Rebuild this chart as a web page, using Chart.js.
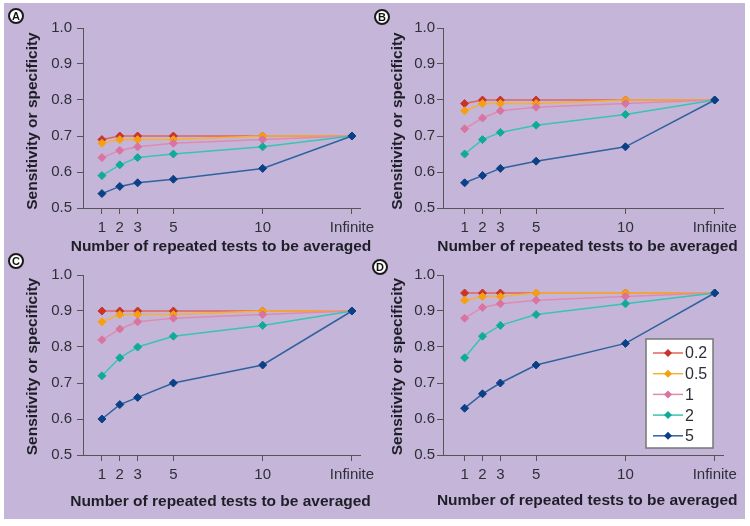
<!DOCTYPE html>
<html>
<head>
<meta charset="utf-8">
<script src="https://cdn.jsdelivr.net/npm/chart.js@4.4.0/dist/chart.umd.min.js"></script>
<style>
  body { margin: 0; width: 750px; height: 526px; background: #fff; position: relative; overflow: hidden; }
  .bg { position: absolute; left: 4px; top: 3px; width: 741px; height: 516px; background: #c5b6d9; }
  .panel { position: absolute; width: 375px; height: 263px; }
  .panel canvas { display: block; }
  .tag {
    position: absolute; width: 12px; height: 12px; border: 2px solid #1a1a1a; border-radius: 50%;
    background: #fff; color: #111; text-align: center; line-height: 12px;
    font: bold 11px "Liberation Sans", Arial, sans-serif;
  }
</style>
</head>
<body>
<div class="bg"></div>
<div class="panel" style="left:0;top:0"><canvas id="chartA" width="375" height="263"></canvas></div>
<div class="panel" style="left:375px;top:0"><canvas id="chartB" width="375" height="263"></canvas></div>
<div class="panel" style="left:0;top:263px"><canvas id="chartC" width="375" height="263"></canvas></div>
<div class="panel" style="left:375px;top:263px"><canvas id="chartD" width="375" height="263"></canvas></div>
<div class="tag" style="left:8px;top:8px">A</div>
<div class="tag" style="left:374px;top:9px">B</div>
<div class="tag" style="left:8px;top:253px">C</div>
<div class="tag" style="left:372px;top:259px">D</div>
<script>
// x: number of repeated tests ("Infinite" sits at 15 on the axis)
const xPositions = [1, 2, 3, 5, 10, 15];
const xLabels = ["1", "2", "3", "5", "10", "Infinite"];
const seriesNames = ["0.2", "0.5", "1", "2", "5"];

// one row per series, in seriesNames order
const panelA = [
  [0.69, 0.70, 0.70, 0.70, 0.70, 0.70],
  [0.68, 0.69, 0.69, 0.69, 0.70, 0.70],
  [0.64, 0.66, 0.67, 0.68, 0.69, 0.70],
  [0.59, 0.62, 0.64, 0.65, 0.67, 0.70],
  [0.54, 0.56, 0.57, 0.58, 0.61, 0.70],
];
const panelB = [
  [0.79, 0.80, 0.80, 0.80, 0.80, 0.80],
  [0.77, 0.79, 0.79, 0.79, 0.80, 0.80],
  [0.72, 0.75, 0.77, 0.78, 0.79, 0.80],
  [0.65, 0.69, 0.71, 0.73, 0.76, 0.80],
  [0.57, 0.59, 0.61, 0.63, 0.67, 0.80],
];
const panelC = [
  [0.90, 0.90, 0.90, 0.90, 0.90, 0.90],
  [0.87, 0.89, 0.89, 0.89, 0.90, 0.90],
  [0.82, 0.85, 0.87, 0.88, 0.89, 0.90],
  [0.72, 0.77, 0.80, 0.83, 0.86, 0.90],
  [0.60, 0.64, 0.66, 0.70, 0.75, 0.90],
];
const panelD = [
  [0.95, 0.95, 0.95, 0.95, 0.95, 0.95],
  [0.93, 0.94, 0.94, 0.95, 0.95, 0.95],
  [0.88, 0.91, 0.92, 0.93, 0.94, 0.95],
  [0.77, 0.83, 0.86, 0.89, 0.92, 0.95],
  [0.63, 0.67, 0.70, 0.75, 0.81, 0.95],
];

const lineColors = ["#e0645a", "#f7b030", "#e08ab0", "#38c4b2", "#30619f"];
const markColors = ["#c8332b", "#f59f12", "#d9739f", "#10aa99", "#0b3f86"];

const FONT = '"Liberation Sans", Arial, Helvetica, sans-serif';
const TEXT = "#2e2e38";
const TITLE = "#1e1e28";
const AXIS = "#555";

// axis titles drawn by hand so they are not squeezed to the plot width
const titlesPlugin = {
  id: "axisTitles",
  afterDraw(chart, args, opts) {
    const ctx = chart.ctx;
    ctx.save();
    ctx.fillStyle = TITLE;
    ctx.font = "bold 15.5px " + FONT;
    ctx.textAlign = "center";
    ctx.textBaseline = "middle";
    ctx.fillText("Number of repeated tests to be averaged", opts.xTitle[0], opts.xTitle[1]);
    ctx.translate(opts.yTitle[0], opts.yTitle[1]);
    ctx.rotate(-Math.PI / 2);
    ctx.fillText("Sensitivity or specificity", 0, 0);
    ctx.restore();
  },
};

// legend drawn inside panel D
const legendPlugin = {
  id: "boxLegend",
  afterDraw(chart) {
    const ctx = chart.ctx;
    const x0 = 271, y0 = 76, w = 67, h = 109;
    ctx.save();
    ctx.fillStyle = "#fff";
    ctx.fillRect(x0, y0, w, h);
    ctx.strokeStyle = "#777";
    ctx.lineWidth = 1.5;
    ctx.strokeRect(x0, y0, w, h);
    seriesNames.forEach((name, i) => {
      const y = y0 + 14 + i * 20.7;
      ctx.strokeStyle = lineColors[i];
      ctx.lineWidth = 1.5;
      ctx.beginPath();
      ctx.moveTo(x0 + 7, y);
      ctx.lineTo(x0 + 37, y);
      ctx.stroke();
      ctx.fillStyle = markColors[i];
      ctx.beginPath();
      ctx.moveTo(x0 + 22 - 4, y);
      ctx.lineTo(x0 + 22, y - 4);
      ctx.lineTo(x0 + 22 + 4, y);
      ctx.lineTo(x0 + 22, y + 4);
      ctx.closePath();
      ctx.fill();
      ctx.fillStyle = TEXT;
      ctx.font = "16px " + FONT;
      ctx.textBaseline = "middle";
      ctx.fillText(name, x0 + 39, y + 1);
    });
    ctx.restore();
  },
};

function makePanel(id, rows, lay, withLegend) {
  const datasets = rows.map((vals, i) => ({
    label: seriesNames[i],
    data: vals.map((v, j) => ({ x: xPositions[j], y: v })),
    borderColor: lineColors[i],
    backgroundColor: markColors[i],
    pointBackgroundColor: markColors[i],
    pointBorderColor: markColors[i],
    borderWidth: 1.5,
    showLine: true,
    pointStyle: "rectRot",
    pointRadius: 4,
    pointBorderWidth: 1,
    order: rows.length - 1 - i,
  }));

  const plugins = [titlesPlugin];
  if (withLegend) plugins.push(legendPlugin);

  new Chart(document.getElementById(id), {
    type: "line",
    data: { datasets },
    plugins,
    options: {
      responsive: false,
      animation: false,
      devicePixelRatio: 1,
      layout: { padding: { left: 0, top: lay.top, right: lay.right, bottom: 0 } },
      plugins: {
        legend: { display: false },
        tooltip: { enabled: false },
        axisTitles: { xTitle: lay.xTitle, yTitle: lay.yTitle },
      },
      scales: {
        x: {
          type: "linear",
          min: lay.xMin,
          max: lay.xMax,
          afterBuildTicks: (s) => { s.ticks = xPositions.map((v) => ({ value: v })); },
          afterFit: (s) => { s.height = lay.xHeight; s.paddingLeft = 0; s.paddingRight = 0; },
          ticks: {
            autoSkip: false,
            maxRotation: 0,
            padding: 5,
            color: TEXT,
            font: { family: FONT, size: 15 },
            callback: (v, i) => xLabels[i],
          },
          grid: { drawOnChartArea: false, drawTicks: true, tickLength: 6, color: AXIS },
          border: { display: true, color: AXIS, width: 1 },
        },
        y: {
          min: 0.5,
          max: 1.0,
          afterFit: (s) => { s.width = lay.yWidth; s.paddingTop = 0; s.paddingBottom = 0; },
          ticks: {
            stepSize: 0.1,
            padding: lay.yTickPad,
            color: TEXT,
            font: { family: FONT, size: 15 },
            callback: (v) => Number(v).toFixed(1),
          },
          grid: { drawOnChartArea: false, drawTicks: true, tickLength: 6, color: AXIS },
          border: { display: true, color: AXIS, width: 1 },
        },
      },
    },
  });
}

const layLeft = { xMin: -0.06, xMax: 15.45, yWidth: 83, right: 15, yTickPad: 5 };
const layRight = { xMin: -0.21, xMax: 15.46, yWidth: 68, right: 27, yTickPad: 2 };

makePanel("chartA", panelA, { ...layLeft, top: 28, xHeight: 55, xTitle: [221, 247], yTitle: [33, 121] });
makePanel("chartB", panelB, { ...layRight, top: 28, xHeight: 55, xTitle: [212.5, 246.5], yTitle: [22.7, 121] });
makePanel("chartC", panelC, { ...layLeft, top: 12, xHeight: 71, xTitle: [220.5, 238.3], yTitle: [33, 103.5] });
makePanel("chartD", panelD, { ...layRight, top: 12, xHeight: 71, xTitle: [212.2, 237.3], yTitle: [22.7, 103.5] }, true);
</script>
</body>
</html>
